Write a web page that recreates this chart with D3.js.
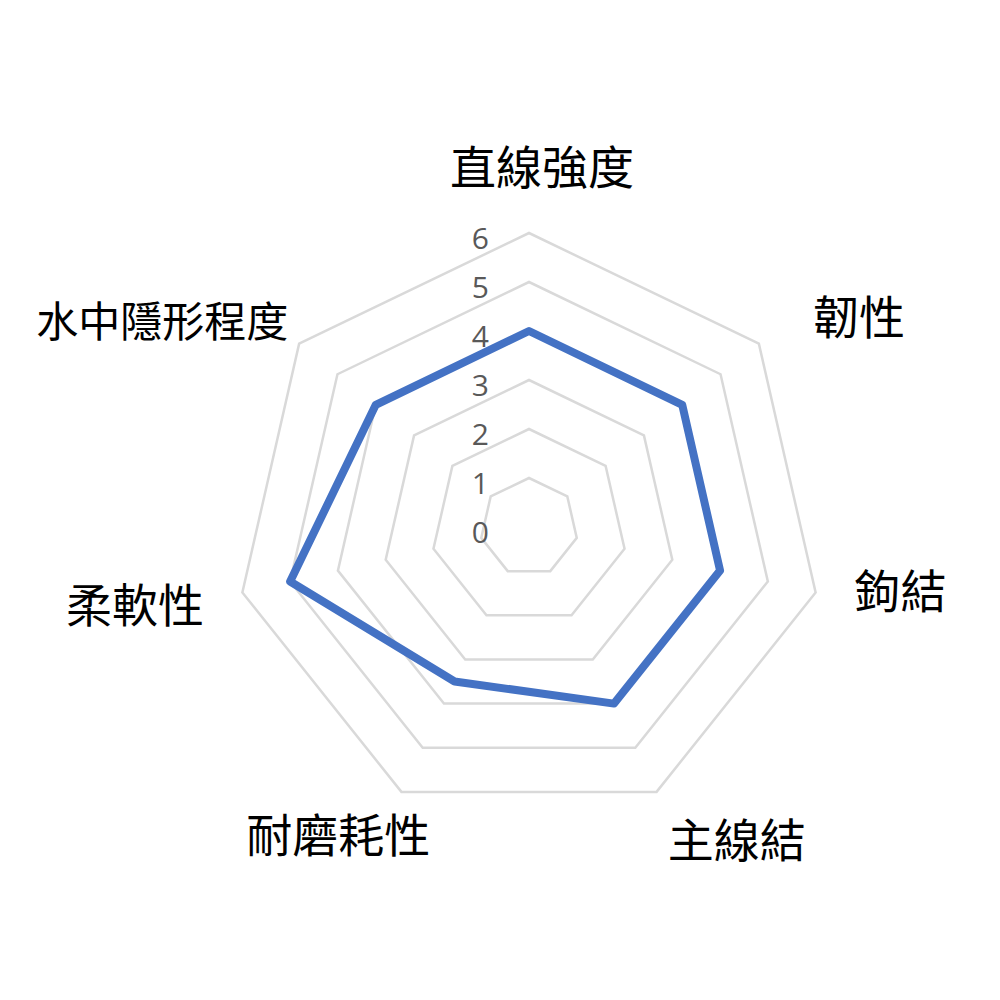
<!DOCTYPE html>
<html>
<head>
<meta charset="utf-8">
<script src="https://cdn.jsdelivr.net/npm/d3@7"></script>
<style>
  body { margin: 0; background: #fff; }
</style>
</head>
<body>
<svg id="radar" width="1000" height="1000"></svg>
<script>
// axes, clockwise from the top
var categories = ["直線強度", "韌性", "鉤結", "主線結", "耐磨耗性", "柔軟性", "水中隱形程度"];
var values = [4, 4, 4, 4, 3.5, 5, 4];
var tickLabels = [0, 1, 2, 3, 4, 5, 6];

// layout
var cx = 529, cy = 527, radius = 294, labelPad = 40;
// small hand nudges for the category labels (px)
var labelNudge = [[13, 4], [33, 16], [1, -21], [33, -21], [-6, -26], [-1, -7], [-7, 19]];

var svg = d3.select("#radar");
var g = svg.append("g").attr("transform", "translate(" + cx + "," + cy + ")");

var r = d3.scaleLinear().domain([0, 6]).range([0, radius]);
var angle = d3.scaleLinear().domain([0, categories.length]).range([0, 2 * Math.PI]);

var line = d3.lineRadial()
	.angle(function(d, i) { return angle(i); })
	.radius(function(d) { return r(d); })
	.curve(d3.curveLinearClosed);

// grid rings
g.selectAll(".ring")
	.data(tickLabels.filter(function(t) { return t > 0; }))
	.enter()
	.append("path")
	.attr("class", "ring")
	.attr("d", function(t) { return line(categories.map(function() { return t; })); })
	.attr("fill", "none")
	.attr("stroke", "#d9d9d9")
	.attr("stroke-width", 2.5);

// tick labels along the top axis
g.selectAll(".tick")
	.data(tickLabels)
	.enter()
	.append("text")
	.attr("class", "tick")
	.attr("x", -40)
	.attr("y", function(t) { return -r(t) + 4; })
	.attr("text-anchor", "end")
	.attr("dominant-baseline", "central")
	.attr("font-family", "'Open Sans', sans-serif")
	.attr("font-size", "30px")
	.attr("fill", "#595959")
	.text(function(t) { return t; });

// data series
g.append("path")
	.datum(values)
	.attr("d", line)
	.attr("fill", "none")
	.attr("stroke", "#4472c4")
	.attr("stroke-width", 8)
	.attr("stroke-linejoin", "round");

// category labels
var labels = g.selectAll(".cat")
	.data(categories)
	.enter()
	.append("text")
	.attr("class", "cat")
	.attr("text-anchor", "middle")
	.attr("dominant-baseline", "central")
	.attr("font-family", "'Noto Sans CJK TC', 'Noto Sans CJK SC', sans-serif")
	.attr("font-size", function(d) { return d.length > 4 ? "42px" : "46px"; })
	.attr("fill", "#000")
	.text(function(d) { return d; });

labels.each(function(d, i) {
	var a = angle(i), s = Math.sin(a), c = Math.cos(a);
	var box = this.getBBox();
	var rr = radius + labelPad;
	var x = rr * s + s * box.width / 2 + labelNudge[i][0];
	var y = -rr * c - c * box.height / 2 + labelNudge[i][1];
	d3.select(this).attr("x", x).attr("y", y);
});
</script>
</body>
</html>
